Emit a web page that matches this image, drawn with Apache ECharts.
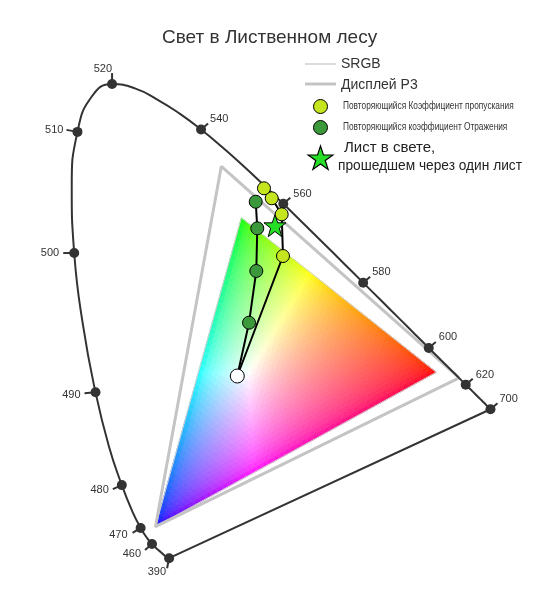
<!DOCTYPE html>
<html><head><meta charset="utf-8">
<script src="https://cdn.jsdelivr.net/npm/echarts@6/dist/echarts.min.js"></script>
<style>html,body{margin:0;padding:0;background:#fff}#c{width:546px;height:592px}</style>
</head><body><div id="c"></div>
<script>
// CIE 1931 spectral locus (nm, x, y)
const locusNm = [390,395,400,405,410,415,420,425,430,435,440,445,450,455,460,465,470,475,480,485,490,495,500,505,510,515,520,525,530,535,540,545,550,555,560,565,570,575,580,585,590,595,600,605,610,615,620,625,630,635,640,645,650,655,660,665,670,675,680,685,690,695,700];
const locusX = [0.1738,0.1736,0.1733,0.1730,0.1726,0.1721,0.1714,0.1703,0.1689,0.1669,0.1644,0.1611,0.1566,0.1510,0.1440,0.1355,0.1241,0.1096,0.0913,0.0687,0.0454,0.0235,0.0082,0.0039,0.0139,0.0389,0.0743,0.1142,0.1547,0.1929,0.2296,0.2658,0.3016,0.3373,0.3731,0.4087,0.4441,0.4788,0.5125,0.5448,0.5752,0.6029,0.6270,0.6482,0.6658,0.6801,0.6915,0.7006,0.7079,0.7140,0.7190,0.7230,0.7260,0.7283,0.7300,0.7311,0.7320,0.7327,0.7334,0.7340,0.7344,0.7346,0.7347];
const locusY = [0.0049,0.0049,0.0048,0.0048,0.0048,0.0048,0.0051,0.0058,0.0069,0.0086,0.0109,0.0138,0.0177,0.0227,0.0297,0.0399,0.0578,0.0868,0.1327,0.2007,0.2950,0.4127,0.5384,0.6548,0.7502,0.8120,0.8338,0.8262,0.8059,0.7816,0.7543,0.7243,0.6923,0.6589,0.6245,0.5896,0.5547,0.5202,0.4866,0.4544,0.4242,0.3965,0.3725,0.3514,0.3340,0.3197,0.3083,0.2993,0.2920,0.2859,0.2809,0.2770,0.2740,0.2717,0.2700,0.2689,0.2680,0.2673,0.2666,0.2660,0.2656,0.2654,0.2653];
const tickNm = [390,460,470,480,490,500,510,520,540,560,580,600,620,700];

// Gamuts (R, G, B primaries)
const srgbX = [0.64,0.30,0.15], srgbY = [0.33,0.60,0.06];
const p3X = [0.68,0.265,0.15], p3Y = [0.32,0.69,0.06];

// Leaf measurements
const whitePoint = [0.2928,0.3234];
const transX = [0.3726,0.3703,0.3529,0.3394];
const transY = [0.5332,0.6061,0.6341,0.6516];
const reflX = [0.3133,0.3260,0.3277,0.3250];
const reflY = [0.4166,0.5070,0.5816,0.6281];
const leafStar = [0.3586,0.5862];

const titleText = 'Свет в Лиственном лесу';
const legendNames = ['SRGB','Дисплей P3','Повторяющийся Коэффициент пропускания','Повторяющийся коэффициент Отражения','Лист в свете,','прошедшем через один лист'];

// ---- styling (tick direction / label offsets in px) ----
const tickStyle = {
  390:[-2,10,-3,14,'right'], 460:[-7,6,-11,10,'right'], 470:[-8,5,-13,7,'right'],
  480:[-9,4,-13,5,'right'], 490:[-11,1,-15,3,'right'], 500:[-11,0,-15,0,'right'],
  510:[-11,-2,-14,-2,'right'], 520:[0,-11,0,-15,'right'], 540:[7,-6,9,-11,'left'],
  560:[7,-6,10,-10,'left'], 580:[7,-6,9,-11,'left'], 600:[7,-6,10,-11,'left'],
  620:[7,-6,10,-10,'left'], 700:[7,-6,9,-10,'left']
};
const FONT = 'Liberation Sans, Arial, sans-serif';
const STAR = 'path://M50,2 L61.8,36.3 L98,36.5 L69,58.6 L79.4,95 L50,73 L20.6,95 L31,58.6 L2,36.5 L38.2,36.3 Z';

const locusPts = locusNm.map((n,i)=>[locusX[i],locusY[i]]);
const purpleLine = [locusPts[locusPts.length-1], locusPts[0]];
const tickPts = tickNm.map(n=>{const i=locusNm.indexOf(n);return [locusX[i],locusY[i],n];});
const tri = (xs,ys)=>xs.map((x,i)=>[x,ys[i]]).concat([[xs[0],ys[0]]]);

// gradient mesh over sRGB triangle
const N = 50;
const mesh = [];
for (let a=0;a<N;a++) for (let b=0;b<N-a;b++){ mesh.push([a,b,0]); if (a+b<=N-2) mesh.push([a,b,1]); }
function vtx(a,b){
  return [srgbX[0]+(srgbX[1]-srgbX[0])*a/N+(srgbX[2]-srgbX[0])*b/N,
          srgbY[0]+(srgbY[1]-srgbY[0])*a/N+(srgbY[2]-srgbY[0])*b/N];
}
function xyColor(x,y){
  const X=x/y, Y=1, Z=(1-x-y)/y;
  let r=3.2406*X-1.5372*Y-0.4986*Z, g=-0.9689*X+1.8758*Y+0.0415*Z, bl=0.0557*X-0.2040*Y+1.0570*Z;
  r=Math.max(r,0); g=Math.max(g,0); bl=Math.max(bl,0);
  const m=Math.max(r,g,bl);
  const gam=v=>{v/=m;v=v<=0.0031308?12.92*v:1.055*Math.pow(v,1/2.4)-0.055;return Math.round(Math.min(1,v)*255);};
  return 'rgb('+gam(r)+','+gam(g)+','+gam(bl)+')';
}

const chart = echarts.init(document.getElementById('c'), null, {renderer:'canvas'});
const lineCol = '#333';
const narrow = {fontFamily:FONT,fontSize:10,fill:'#333',textVerticalAlign:'middle'};
chart.setOption({
  animation:false,
  backgroundColor:'#fff',
  title:{text:titleText,left:157,top:23,textStyle:{fontFamily:FONT,fontSize:19,fontWeight:'normal',color:'#333'}},
  grid:{left:12.2,top:46.2,width:515.7,height:543.4},
  xAxis:{type:'value',min:-0.1,max:0.8,show:false},
  yAxis:{type:'value',min:-0.05,max:0.9,show:false},
  series:[
    {type:'custom',silent:true,z:1,data:mesh,encode:{x:-1,y:-1},
     renderItem:function(params,api){
       const a=api.value(0), b=api.value(1), k=api.value(2);
       const vs = k===0 ? [vtx(a,b),vtx(a+1,b),vtx(a,b+1)] : [vtx(a+1,b),vtx(a,b+1),vtx(a+1,b+1)];
       const cx=(vs[0][0]+vs[1][0]+vs[2][0])/3, cy=(vs[0][1]+vs[1][1]+vs[2][1])/3;
       const col=xyColor(cx,cy);
       return {type:'polygon',shape:{points:vs.map(v=>api.coord(v))},style:{fill:col,stroke:col,lineWidth:0.8}};
     }},
    {name:legendNames[0],type:'line',z:2,data:tri(srgbX,srgbY),symbol:'none',lineStyle:{color:'#d0d0d0',width:1},silent:true},
    {name:legendNames[1],type:'line',z:2,data:tri(p3X,p3Y),symbol:'none',lineStyle:{color:'#c4c4c4',width:3},silent:true},
    {type:'line',z:3,data:locusPts,smooth:0.5,symbol:'none',lineStyle:{color:lineCol,width:2},silent:true},
    {type:'line',z:3,data:purpleLine,symbol:'none',lineStyle:{color:lineCol,width:2},silent:true},
    {type:'custom',z:4,silent:true,data:tickPts,encode:{x:0,y:1},
     renderItem:function(params,api){
       const p=api.coord([api.value(0),api.value(1)]);
       const s=tickStyle[api.value(2)];
       return {type:'group',children:[
         {type:'line',shape:{x1:p[0],y1:p[1],x2:p[0]+s[0],y2:p[1]+s[1]},style:{stroke:lineCol,lineWidth:2}},
         {type:'circle',shape:{cx:p[0],cy:p[1],r:5},style:{fill:lineCol}},
         {type:'text',x:p[0]+s[2],y:p[1]+s[3],style:{text:String(api.value(2)),textAlign:s[4],textVerticalAlign:'middle',fontFamily:FONT,fontSize:11,fill:'#333'}}
       ]};
     }},
    {type:'line',z:5,data:[whitePoint].concat(transX.map((x,i)=>[x,transY[i]])),symbol:'none',lineStyle:{color:'#000',width:2},silent:true},
    {type:'line',z:5,data:[whitePoint].concat(reflX.map((x,i)=>[x,reflY[i]])),symbol:'none',lineStyle:{color:'#000',width:2},silent:true},
    {name:legendNames[2],type:'scatter',z:6,data:transX.map((x,i)=>[x,transY[i]]),symbol:'circle',symbolSize:13,itemStyle:{color:'#c5e61f',borderColor:'#000',borderWidth:1,opacity:1}},
    {name:legendNames[3],type:'scatter',z:6,data:reflX.map((x,i)=>[x,reflY[i]]),symbol:'circle',symbolSize:13,itemStyle:{color:'#3b983b',borderColor:'#000',borderWidth:1,opacity:1}},
    {type:'scatter',z:6,data:[whitePoint],symbol:'circle',symbolSize:14,itemStyle:{color:'#fff',borderColor:'#000',borderWidth:1,opacity:1}},
    {name:legendNames[4],type:'scatter',z:7,data:[leafStar],symbol:STAR,symbolSize:22,itemStyle:{color:'#27de27',borderColor:'#000',borderWidth:1,opacity:1}}
  ],
  graphic:[
    {type:'line',shape:{x1:305,y1:64,x2:336,y2:64},style:{stroke:'#cfcfcf',lineWidth:1.5}},
    {type:'text',x:341,y:64,style:{text:legendNames[0],fontFamily:FONT,fontSize:14,fill:'#333',textVerticalAlign:'middle'}},
    {type:'line',shape:{x1:305,y1:84,x2:336,y2:84},style:{stroke:'#c4c4c4',lineWidth:3}},
    {type:'text',x:341,y:85,style:{text:legendNames[1],fontFamily:FONT,fontSize:14,fill:'#333',textVerticalAlign:'middle'}},
    {type:'circle',shape:{cx:320.5,cy:106.5,r:7},style:{fill:'#c5e61f',stroke:'#000',lineWidth:1}},
    {type:'text',x:343,y:106,scaleX:0.83,style:Object.assign({text:legendNames[2]},narrow)},
    {type:'circle',shape:{cx:320.5,cy:127.5,r:7},style:{fill:'#3b983b',stroke:'#000',lineWidth:1}},
    {type:'text',x:343,y:127,scaleX:0.83,style:Object.assign({text:legendNames[3]},narrow)},
    {type:'polygon',shape:{points:(function(){const pts=[];for(let i=0;i<10;i++){const r=i%2?5:13;const a=-Math.PI/2+i*Math.PI/5;pts.push([320.5+r*Math.cos(a),159+r*Math.sin(a)]);}return pts;})()},style:{fill:'#27de27',stroke:'#000',lineWidth:1.2}},
    {type:'text',x:344,y:148,style:{text:legendNames[4],fontFamily:FONT,fontSize:15,fill:'#222',textVerticalAlign:'middle'}},
    {type:'text',x:338,y:166,scaleX:0.98,style:{text:legendNames[5],fontFamily:FONT,fontSize:14,fill:'#222',textVerticalAlign:'middle'}}
  ]
});
</script></body></html>
